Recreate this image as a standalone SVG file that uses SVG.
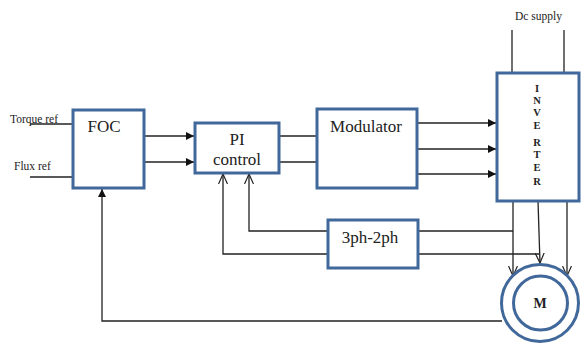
<svg xmlns="http://www.w3.org/2000/svg" width="581" height="345" viewBox="0 0 581 345">
<defs>
<style>
.box{fill:#fff;stroke:#41689a;stroke-width:3}
.ln{fill:none;stroke:#222;stroke-width:1.3}
.lbl{font-size:17px;text-anchor:middle}
.sm{font-size:11.5px}
.b{font-weight:bold;font-size:10.5px;text-anchor:middle}
</style>
<marker id="fa" viewBox="0 0 10 10" refX="10" refY="5" markerWidth="8" markerHeight="8" markerUnits="userSpaceOnUse" orient="auto"><path d="M0,0 L10,5 L0,10 z" fill="#111"/></marker>
<marker id="oa" viewBox="0 0 10 10" refX="10" refY="5" markerWidth="10" markerHeight="10" markerUnits="userSpaceOnUse" orient="auto"><path d="M0,0.5 L10,5 L0,9.5" fill="none" stroke="#222" stroke-width="1.2"/></marker>
</defs>
<rect width="581" height="345" fill="#fff"/>
<g id="connectors">
<line class="ln" x1="30" y1="124" x2="73" y2="124"/>
<line class="ln" x1="30" y1="177" x2="73" y2="177"/>
<line class="ln" x1="144" y1="136" x2="194" y2="136" marker-end="url(#fa)"/>
<line class="ln" x1="144" y1="162" x2="194" y2="162" marker-end="url(#fa)"/>
<line class="ln" x1="279" y1="136" x2="317" y2="136"/>
<line class="ln" x1="279" y1="162" x2="317" y2="162"/>
<line class="ln" x1="417" y1="123" x2="496" y2="123" marker-end="url(#fa)"/>
<line class="ln" x1="417" y1="149" x2="496" y2="149" marker-end="url(#fa)"/>
<line class="ln" x1="417" y1="174" x2="496" y2="174" marker-end="url(#fa)"/>
<line class="ln" x1="512" y1="30" x2="512" y2="73"/>
<line class="ln" x1="564" y1="30" x2="564" y2="73"/>
<line class="ln" x1="513" y1="201" x2="513" y2="276" marker-end="url(#oa)"/>
<line class="ln" x1="538" y1="201" x2="540" y2="263" marker-end="url(#oa)"/>
<line class="ln" x1="567" y1="201" x2="567" y2="276" marker-end="url(#oa)"/>
<polyline class="ln" points="513,231 418,231"/>
<polyline class="ln" points="539,254 418,254"/>
<polyline class="ln" points="328,231 249,231 249,174" marker-end="url(#oa)"/>
<polyline class="ln" points="328,254 223,254 223,174" marker-end="url(#oa)"/>
<polyline class="ln" points="502,321 102,321 102,189" marker-end="url(#fa)"/>
</g>
<g font-family="Liberation Serif, serif" fill="#222">
<g id="labels">
<text class="sm" x="10" y="123">Torque ref</text>
<text class="sm" x="14" y="170">Flux ref</text>
<text class="sm" x="515" y="20">Dc supply</text>
</g>
<g id="foc">
<rect class="box" x="73" y="110" width="71" height="78"/>
<text class="lbl" x="104" y="132">FOC</text>
</g>
<g id="pi">
<rect class="box" x="195" y="123" width="84" height="50"/>
<text class="lbl" x="237" y="145">PI</text>
<text class="lbl" x="237" y="165">control</text>
</g>
<g id="modulator">
<rect class="box" x="317" y="109" width="100" height="79"/>
<text class="lbl" x="366" y="132">Modulator</text>
</g>
<g id="inverter">
<rect class="box" x="497" y="73" width="82" height="128"/>
<text class="b" x="537" y="92">I</text>
<text class="b" x="537" y="104">N</text>
<text class="b" x="537" y="116">V</text>
<text class="b" x="537" y="129">E</text>
<text class="b" x="537" y="146">R</text>
<text class="b" x="537" y="158">T</text>
<text class="b" x="537" y="171">E</text>
<text class="b" x="537" y="185">R</text>
</g>
<g id="converter">
<rect class="box" x="328" y="220" width="90" height="48"/>
<text class="lbl" x="370" y="243">3ph-2ph</text>
</g>
<g id="motor">
<circle cx="540" cy="303" r="38.5" fill="#fff" stroke="#41689a" stroke-width="3"/>
<circle cx="540.5" cy="303" r="27" fill="none" stroke="#41689a" stroke-width="3"/>
<text x="540" y="308" font-size="14" font-weight="bold" text-anchor="middle">M</text>
</g>
</g>
</svg>
